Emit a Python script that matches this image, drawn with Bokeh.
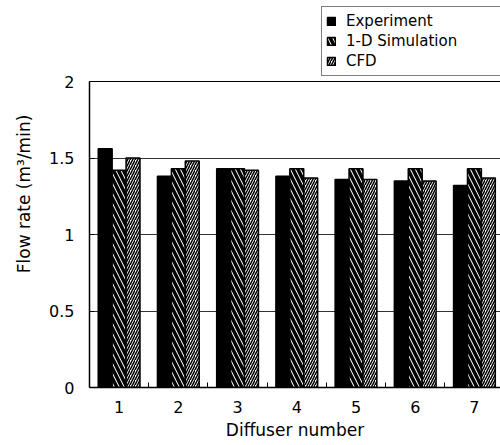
from bokeh.plotting import figure
from bokeh.models import ColumnDataSource, Range1d, FixedTicker, Legend, LegendItem, Span
from bokeh.transform import dodge
from bokeh.embed import file_html
from bokeh.resources import INLINE

# ---- data ----
diffusers = [1, 2, 3, 4, 5, 6, 7]
x_tick_labels = ["1", "2", "3", "4", "5", "6", "7"]
experiment = [1.56, 1.38, 1.43, 1.38, 1.36, 1.35, 1.32]
simulation_1d = [1.42, 1.43, 1.43, 1.43, 1.43, 1.43, 1.43]
cfd = [1.50, 1.48, 1.42, 1.37, 1.36, 1.35, 1.37]
y_ticks = [0, 0.5, 1, 1.5, 2]
y_tick_labels = ["0", "0.5", "1", "1.5", "2"]
series_names = ["Experiment", "1-D Simulation", "CFD"]

FONT = "DejaVu Sans"

src = ColumnDataSource(dict(x=diffusers, exp=experiment, sim=simulation_1d, cfd=cfd))

# frame spans the full height so the legend (above the value 2 line) is not clipped
p = figure(width=500, height=445, output_backend="svg", toolbar_location=None,
           x_range=Range1d(0.5, 7.44), y_range=Range1d(0, 387 / 153),
           min_border_left=89, min_border_right=0, min_border_top=0, min_border_bottom=58)
p.outline_line_color = None
p.background_fill_color = "white"
p.border_fill_color = "white"

w = 0.235
r1 = p.vbar(x=dodge("x", -w), top="exp", width=w, source=src,
            fill_color="black", line_color="black", line_width=1.5)
r2 = p.vbar(x="x", top="sim", width=w, source=src,
            fill_color="white", line_color="black", line_width=1.5,
            hatch_pattern="\\", hatch_scale=10, hatch_weight=3.5, hatch_color="black")
r3 = p.vbar(x=dodge("x", w), top="cfd", width=w, source=src,
            fill_color="white", line_color="black", line_width=1.5,
            hatch_pattern="/", hatch_scale=5, hatch_weight=1.5, hatch_color="black")

# plot-area top line at the axis maximum
p.add_layout(Span(location=y_ticks[-1], dimension="width", line_color="black", line_width=1))

# grid
p.xgrid.grid_line_color = None
p.ygrid.ticker = FixedTicker(ticks=y_ticks[1:-1])
p.ygrid.grid_line_color = "#333333"
p.ygrid.grid_line_width = 1

# x axis
xa = p.xaxis[0]
xa.ticker = FixedTicker(ticks=diffusers, minor_ticks=[d + 0.5 for d in diffusers])
xa.major_label_overrides = {d: t for d, t in zip(diffusers, x_tick_labels)}
xa.major_tick_in = 0
xa.major_tick_out = 0
xa.minor_tick_in = 5
xa.minor_tick_out = 0
xa.minor_tick_line_color = "black"
xa.axis_line_color = "black"
xa.axis_line_width = 1.5
xa.major_label_text_font = FONT
xa.major_label_text_font_size = "16px"
xa.major_label_text_color = "black"
xa.major_label_standoff = 13
xa.axis_label = "Diffuser number"
xa.axis_label_text_font = FONT
xa.axis_label_text_font_size = "17px"
xa.axis_label_text_font_style = "normal"
xa.axis_label_text_color = "black"
xa.axis_label_standoff = 4

# y axis
ya = p.yaxis[0]
ya.ticker = FixedTicker(ticks=y_ticks)
ya.bounds = (y_ticks[0], y_ticks[-1])
ya.major_label_overrides = {v: t for v, t in zip(y_ticks, y_tick_labels)}
ya.major_tick_in = 5
ya.major_tick_out = 0
ya.minor_tick_line_color = None
ya.axis_line_color = "black"
ya.axis_line_width = 1.5
ya.major_label_text_font = FONT
ya.major_label_text_font_size = "16px"
ya.major_label_text_color = "black"
ya.major_label_standoff = 15
ya.axis_label = "Flow rate (m³/min)"
ya.axis_label_text_font = FONT
ya.axis_label_text_font_size = "17px"
ya.axis_label_text_font_style = "normal"
ya.axis_label_text_color = "black"
ya.axis_label_standoff = 12

legend = Legend(
    items=[LegendItem(label=series_names[0], renderers=[r1]),
           LegendItem(label=series_names[1], renderers=[r2]),
           LegendItem(label=series_names[2], renderers=[r3])],
    location=(232, 311), orientation="vertical",
    padding=4, spacing=0, margin=0, label_height=20,
    glyph_width=10, glyph_height=10, label_standoff=10, label_width=151,
    label_text_font=FONT, label_text_font_size="15px", label_text_color="black",
    border_line_color="black", border_line_width=1, background_fill_color="white",
    background_fill_alpha=1,
)
p.add_layout(legend)

open("out.html", "w").write(file_html(p, INLINE))
